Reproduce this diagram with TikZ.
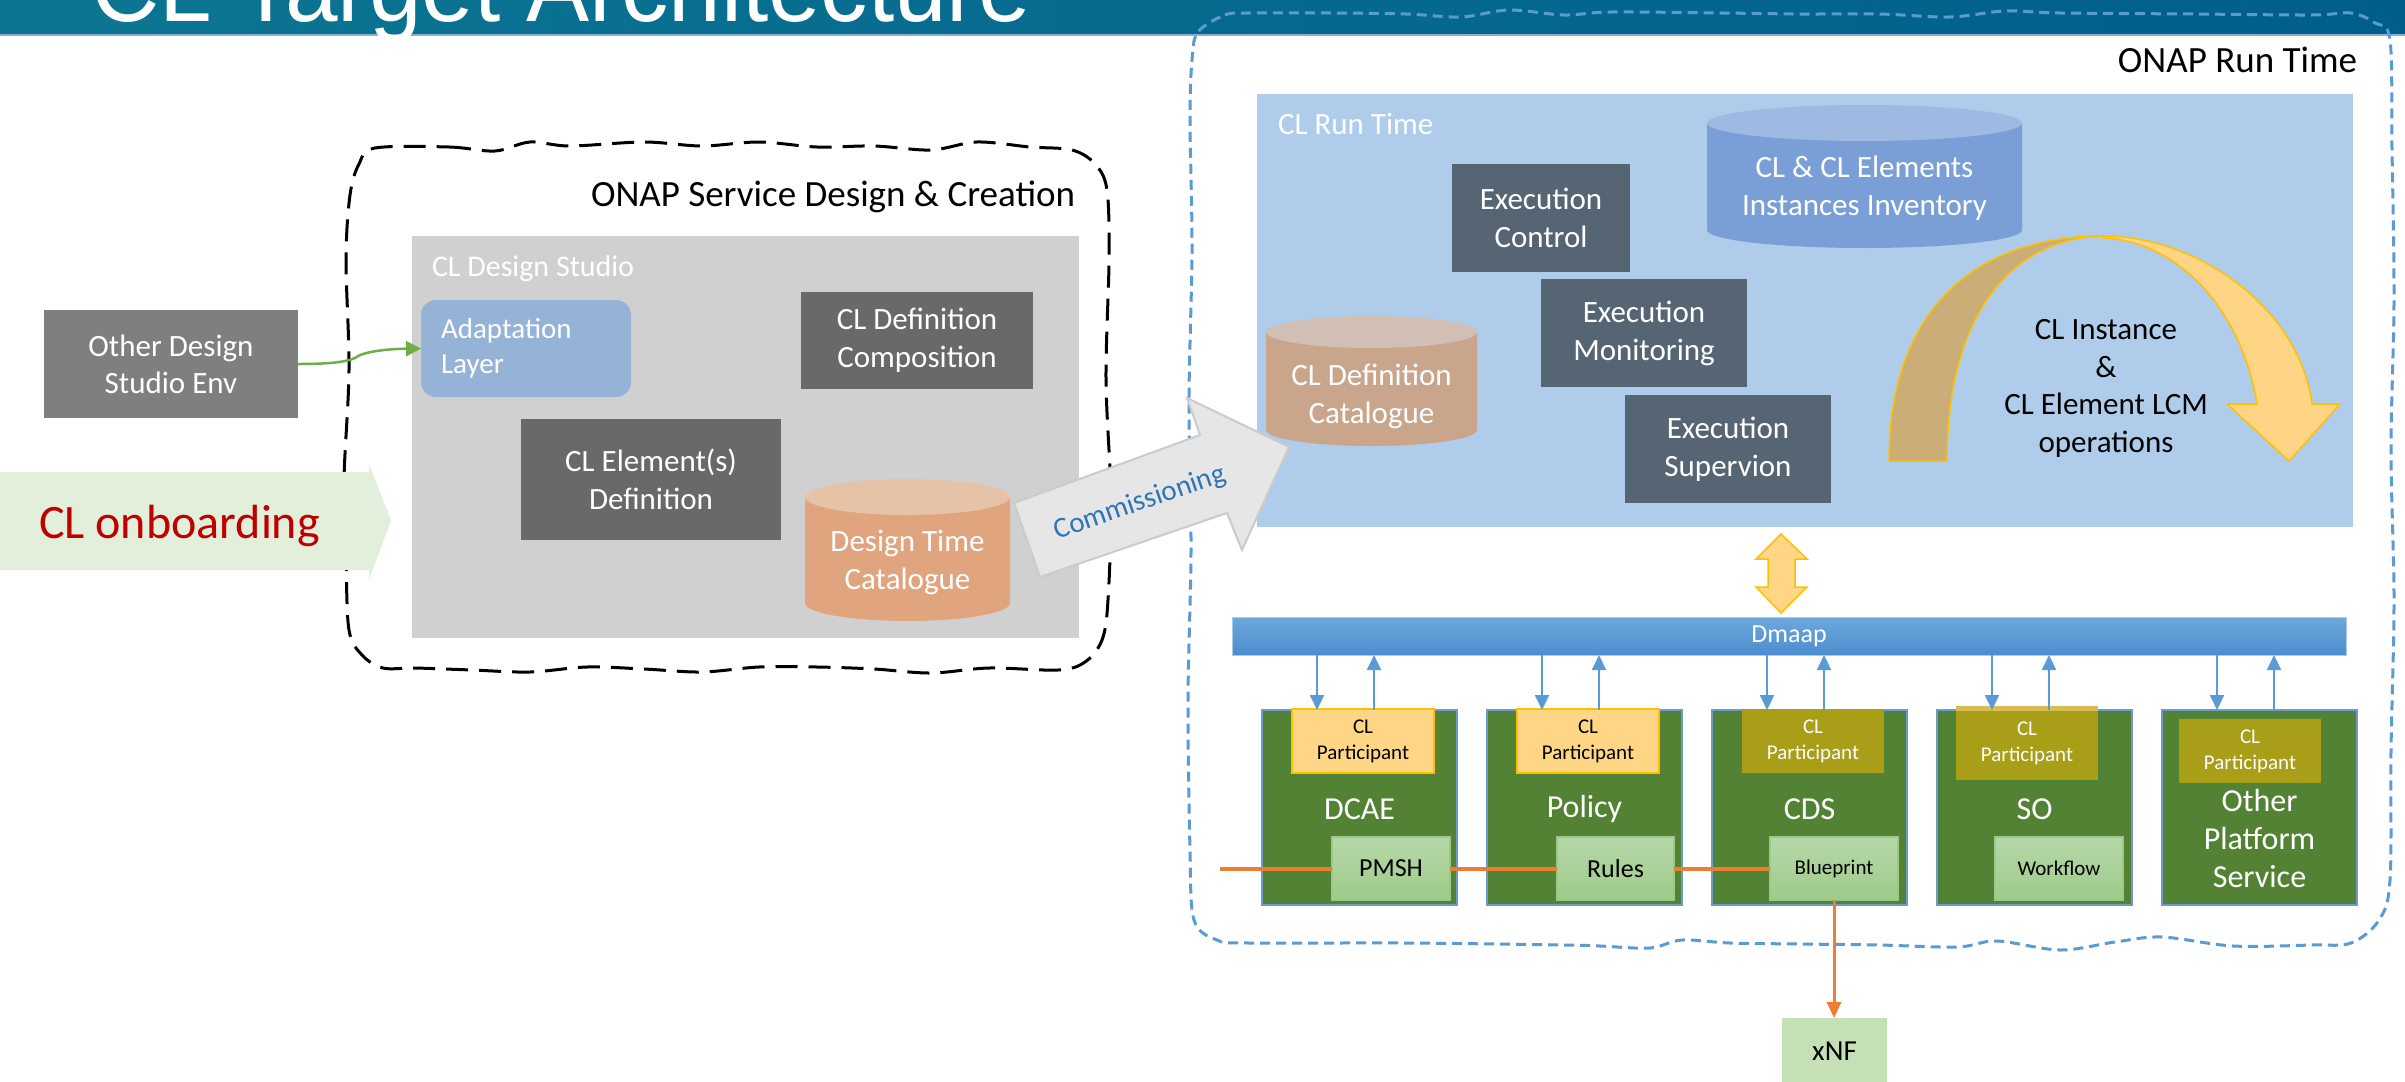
\documentclass[tikz,border=0pt]{standalone}
\usepackage{fontspec}
\usepackage{graphicx}
\setmainfont{Carlito}
\newfontfamily\titlefont{Liberation Sans}
\usetikzlibrary{arrows.meta}
\definecolor{bandL}{HTML}{0C7692}
\definecolor{bandR}{HTML}{005E8C}
\definecolor{bandLine}{HTML}{8AAFCF}
\definecolor{studio}{HTML}{D0D0D0}
\definecolor{dkgrey}{HTML}{696969}
\definecolor{odgrey}{HTML}{7F7F7F}
\definecolor{adaptc}{HTML}{95B3D7}
\definecolor{rtblue}{HTML}{AFCDEA}
\definecolor{exgrey}{HTML}{566574}
\definecolor{grn}{HTML}{548235}
\definecolor{gbord}{HTML}{6B9BD2}
\definecolor{lgA}{HTML}{B6D8A9}
\definecolor{lgB}{HTML}{9FCB89}
\definecolor{lgBord}{HTML}{9CC983}
\definecolor{olive}{HTML}{A89E18}
\definecolor{ylight}{HTML}{FFD686}
\definecolor{yorange}{HTML}{FFC000}
\definecolor{dmA}{HTML}{6FA8DC}
\definecolor{dmB}{HTML}{4A8DCF}
\definecolor{barc}{HTML}{5B9BD5}
\definecolor{orng}{HTML}{ED7D31}
\definecolor{xnfc}{HTML}{C5E0B4}
\definecolor{comtext}{HTML}{2E75B6}
\definecolor{comfill}{HTML}{E6E6E6}
\definecolor{comdraw}{HTML}{CBCBCB}
\definecolor{onbfill}{HTML}{E2EFDA}
\definecolor{onbtext}{HTML}{C00000}
\definecolor{ytan}{HTML}{CBAD77}
\definecolor{yfill}{HTML}{FDD584}
\definecolor{garr}{HTML}{70AD47}
\definecolor{cylOb}{HTML}{E0A57E}
\definecolor{cylOt}{HTML}{E6C2A7}
\definecolor{cylTb}{HTML}{C9A58C}
\definecolor{cylTt}{HTML}{D1BEB4}
\definecolor{cylBb}{HTML}{7A9FD6}
\definecolor{cylBt}{HTML}{9EBAE2}
\begin{document}
\begin{tikzpicture}[x=1pt,y=-1pt,
  every node/.style={inner sep=0pt,outer sep=0pt},
  dkbox/.style={fill=dkgrey,text=white,align=center,font=\fontsize{31}{38}\selectfont},
  exbox/.style={fill=exgrey,text=white,align=center,font=\fontsize{31}{38}\selectfont},
  cyltext/.style={text=white,align=center,font=\fontsize{31}{38}\selectfont},
  gbox/.style={fill=grn,draw=gbord,line width=1.2pt,minimum width=195pt,minimum height=195pt},
  partY/.style={fill=ylight,draw=yorange,line width=2pt,text=black,align=center,font=\fontsize{21}{26}\selectfont,minimum width=142pt,minimum height=64pt},
  partO/.style={fill=olive,text=white,align=center,font=\fontsize{21}{26}\selectfont,minimum width=142pt,minimum height=64pt},
  innerg/.style={top color=lgA,bottom color=lgB,draw=lgBord,line width=1.5pt,minimum height=63pt,text=black},
  glabel/.style={text=white,align=center,font=\fontsize{32}{38}\selectfont},
  barrow/.style={draw=barc,line width=2pt,-{Triangle[length=15pt,width=14pt]}},
  oline/.style={draw=orng,line width=4pt},
  oarrow/.style={draw=orng,line width=3pt,-{Triangle[length=16pt,width=14pt]}},
  garrow/.style={draw=garr,line width=2.5pt,-{Triangle[length=15pt,width=15pt]}},
  yshape/.style={draw=yorange,line width=1.5pt,line join=round}
]
\useasboundingbox (0,0) rectangle (2405,1081);
\clip (0,0) rectangle (2405,1081);
\fill[white] (0,0) rectangle (2405,1081);

% title band
\shade[left color=bandL,right color=bandR] (0,0) rectangle (2405,34);
\fill[bandLine] (0,34) rectangle (2405,36);
\node[anchor=base west,text=white] (title) at (91,22) {\titlefont\fontsize{100}{120}\selectfont\scalebox{0.945}[1]{CL Target Architecture}};

% ONAP Run Time wavy dashed border
\draw[draw=barc,line width=3pt,dash pattern=on 10pt off 6pt]
  plot[smooth cycle,tension=0.55] coordinates {
  (1198,32) (1225,15) (1249,13) (1330,13) (1406,14) (1461,17) (1509,10) (1564,15) (1611,12)
  (1721,13) (1800,14) (1879,14) (1950,17) (2005,11) (2060,13) (2194,14) (2312,15) (2351,13)
  (2375,23) (2390,40) (2392,150) (2394,300) (2391,450) (2394,600) (2391,750) (2390,880)
  (2379,920) (2351,943) (2312,945) (2233,946) (2162,937) (2115,942) (2060,950) (1997,941)
  (1957,947) (1879,945) (1800,944) (1730,943) (1682,940) (1650,948) (1600,946) (1564,945)
  (1406,943) (1249,943) (1217,940) (1194,920) (1190,850) (1188,700) (1191,550) (1189,400)
  (1192,250) (1190,120) (1192,60)};

% ONAP SDC wavy dashed border
\draw[black,line width=3pt,dash pattern=on 22pt off 11pt]
  plot[smooth cycle,tension=0.55] coordinates {
  (375,148) (449,147) (495,151) (530,142) (570,146) (644,142) (702,146) (759,142) (817,147)
  (874,146) (931,150) (977,142) (1030,147) (1072,150) (1095,164) (1107,190) (1109,260)
  (1106,380) (1111,500) (1108,600) (1102,640) (1085,662) (1058,670) (989,668) (931,673)
  (874,669) (817,667) (759,667) (702,672) (644,669) (587,667) (530,672) (472,670) (415,668)
  (383,668) (362,655) (349,630) (346,560) (344,480) (349,370) (346,260) (350,195) (359,164)};

\node[anchor=base east,text=black,font=\fontsize{37}{44}\selectfont] (sdcL) at (1075,206) {ONAP Service Design \& Creation};

% left side
\node[fill=odgrey,text=white,align=center,font=\fontsize{31}{37}\selectfont,minimum width=254pt,minimum height=108pt] (odse) at (171,364) {Other Design\\Studio Env};
\node[fill=studio,minimum width=667pt,minimum height=402pt] (studio) at (745.5,437) {};
\node[anchor=base west,text=white,font=\fontsize{30}{36}\selectfont] (studioL) at (432,276) {CL Design Studio};
\node[fill=adaptc,rounded corners=15pt,text=white,align=left,text width=170pt,inner xsep=20pt,minimum height=97pt,font=\fontsize{29}{35.5}\selectfont] (adapt) at (526,348.5) {Adaptation\\Layer};
\node[dkbox,minimum width=232pt,minimum height=97pt] (cdc) at (917,340.5) {CL Definition\\Composition};
\node[dkbox,minimum width=260pt,minimum height=121pt] (ced) at (651,479.5) {CL Element(s)\\Definition};

% Design Time Catalogue cylinder
\fill[cylOb] (805,497) -- (805,603) .. controls (805,613) and (851,621) .. (907.5,621) .. controls (964,621) and (1010,613) .. (1010,603) -- (1010,497) -- cycle;
\fill[cylOt] (907.5,497) ellipse [x radius=102.5,y radius=18];
\node[cyltext] (dtc) at (907.5,562) {Design Time\\Catalogue};

\draw[garrow] (odse.east) .. controls (330,364) and (346,362) .. (355,358) .. controls (362,352) and (385,349) .. (adapt.west);

% CL onboarding arrow
\fill[onbfill] (0,472) -- (369,472) -- (369,464) -- (391,520) -- (369,580) -- (369,570) -- (0,570) -- cycle;
\node[anchor=base,text=onbtext,font=\fontsize{48}{58}\selectfont] (onb) at (179.5,538) {CL onboarding};

% run time side
\node[anchor=base east,text=black,font=\fontsize{37}{44}\selectfont] (ortL) at (2357,73) {ONAP Run Time};
\node[fill=rtblue,minimum width=1096pt,minimum height=433pt] (rt) at (1805,310.5) {};
\node[anchor=base west,text=white,font=\fontsize{31}{37}\selectfont] (rtL) at (1278,134) {CL Run Time};

% inventory cylinder
\fill[cylBb] (1707,123) -- (1707,230) .. controls (1707,240) and (1777.6,248) .. (1864.5,248) .. controls (1951.4,248) and (2022,240) .. (2022,230) -- (2022,123) -- cycle;
\fill[cylBt] (1864.5,123) ellipse [x radius=157.5,y radius=18];
\node[cyltext] (inv) at (1864.5,188.5) {CL \& CL Elements\\Instances Inventory};

\node[exbox,minimum width=178pt,minimum height=108pt] (ectl) at (1541,218) {Execution\\Control};
\node[exbox,minimum width=206pt,minimum height=108pt] (emon) at (1644,333) {Execution\\Monitoring};
\node[exbox,minimum width=206pt,minimum height=108pt] (esup) at (1728,449) {Execution\\Supervion};

% CL Definition Catalogue cylinder
\fill[cylTb] (1266,332) -- (1266,430) .. controls (1266,438.8) and (1313.3,446) .. (1371.5,446) .. controls (1429.7,446) and (1477,438.8) .. (1477,430) -- (1477,332) -- cycle;
\fill[cylTt] (1371.5,332) ellipse [x radius=105.5,y radius=16];
\node[cyltext] (cdcat) at (1371.5,396.5) {CL Definition\\Catalogue};

% curved LCM arrow
\filldraw[yshape,fill=ytan] (1889,461) .. controls (1889,300) and (1985,236) .. (2103,236) .. controls (2015,238) and (1947,310) .. (1947,461) -- cycle;
\filldraw[yshape,fill=yfill] (2103,236) .. controls (2200,236) and (2300,310) .. (2312,404) -- (2340,404) -- (2289,461) -- (2227,404) -- (2257,404) .. controls (2240,300) and (2170,240) .. (2103,238) -- cycle;
\node[text=black,align=center,font=\fontsize{31}{37.7}\selectfont] (lcm) at (2106,388.5) {CL Instance\\\&\\CL Element LCM\\operations};

% commissioning arrow
\filldraw[fill=comfill,draw=comdraw,line width=2pt,line join=miter] (1040,577) -- (1014,503) -- (1200,435) -- (1187,398) -- (1289,447) -- (1242,550) -- (1227,513) -- cycle;
\node[rotate=19,text=comtext,font=\fontsize{29}{35}\selectfont] (comm) at (1140,503) {Commissioning};

% double arrow
\filldraw[fill=ylight,draw=yorange,line width=1.5pt] (1781,534) -- (1807,559) -- (1795,559) -- (1795,587) -- (1807,587) -- (1781,613) -- (1756,587) -- (1768,587) -- (1768,559) -- (1756,559) -- cycle;

% Dmaap
\node[top color=dmA,bottom color=dmB,draw=dmA!60!white,line width=1pt,minimum width=1114pt,minimum height=38pt,text=white,font=\fontsize{26}{31}\selectfont] (dmaap) at (1789,636) {Dmaap};

% platform components
\node[gbox] (dcae) at (1359.5,807.5) {};
\node[gbox] (pol) at (1584.5,807.5) {};
\node[gbox] (cds) at (1809.5,807.5) {};
\node[gbox] (so) at (2034.5,807.5) {};
\node[gbox] (oth) at (2259.5,807.5) {};

\node[partY] (pdcae) at (1363,741) {CL\\Participant};
\node[partY] (ppol) at (1588,741) {CL\\Participant};
\node[partO] (pcds) at (1813,741) {CL\\Participant};
\node[partO,minimum height=74pt] (pso) at (2027,743) {CL\\Participant};
\fill[ylight!55!olive] (1956,706) rectangle (2098,711);
\node[partO] (poth) at (2250,751) {CL\\Participant};

\node[glabel] (dcaeL) at (1359.5,809) {DCAE};
\node[glabel] (polL) at (1584.5,809) {Policy};
\node[glabel] (cdsL) at (1809.5,809) {CDS};
\node[glabel] (soL) at (2034.5,809) {SO};
\node[glabel] (othL) at (2259.5,838) {Other\\Platform\\Service};

\node[innerg,minimum width=118pt,font=\fontsize{26}{31}\selectfont] (pmsh) at (1391,868.5) {PMSH};
\node[innerg,minimum width=117pt,font=\fontsize{26}{31}\selectfont] (rules) at (1615.5,868.5) {Rules};
\node[innerg,minimum width=128pt,font=\fontsize{21}{26}\selectfont] (bp) at (1834,868.5) {Blueprint};
\node[innerg,minimum width=128pt,font=\fontsize{21}{26}\selectfont] (wf) at (2059,868.5) {Workflow};

\foreach \b/\d/\u in {dcae/dA/uA,pol/dB/uB,cds/dC/uC,so/dD/uD,oth/dE/uE}{
  \coordinate (\d) at ([xshift=55pt]\b.north west);
  \coordinate (\u) at ([xshift=112pt]\b.north west);
  \draw[barrow] (\d |- dmaap.south) -- (\d);
  \draw[barrow] (\u) -- (\u |- dmaap.south);
}

% orange connections
\coordinate (ostart) at (1220,868.5);
\draw[oline] (ostart) -- (pmsh.west);
\draw[oline] (pmsh.east) -- (rules.west);
\draw[oline] (rules.east) -- (bp.west);
\node[fill=xnfc,minimum width=105pt,minimum height=66pt,text=black,font=\fontsize{29}{35}\selectfont] (xnf) at (1834.5,1051) {xNF};
\draw[oarrow] (bp.south) -- (xnf.north -| bp.south);
\end{tikzpicture}
\end{document}
